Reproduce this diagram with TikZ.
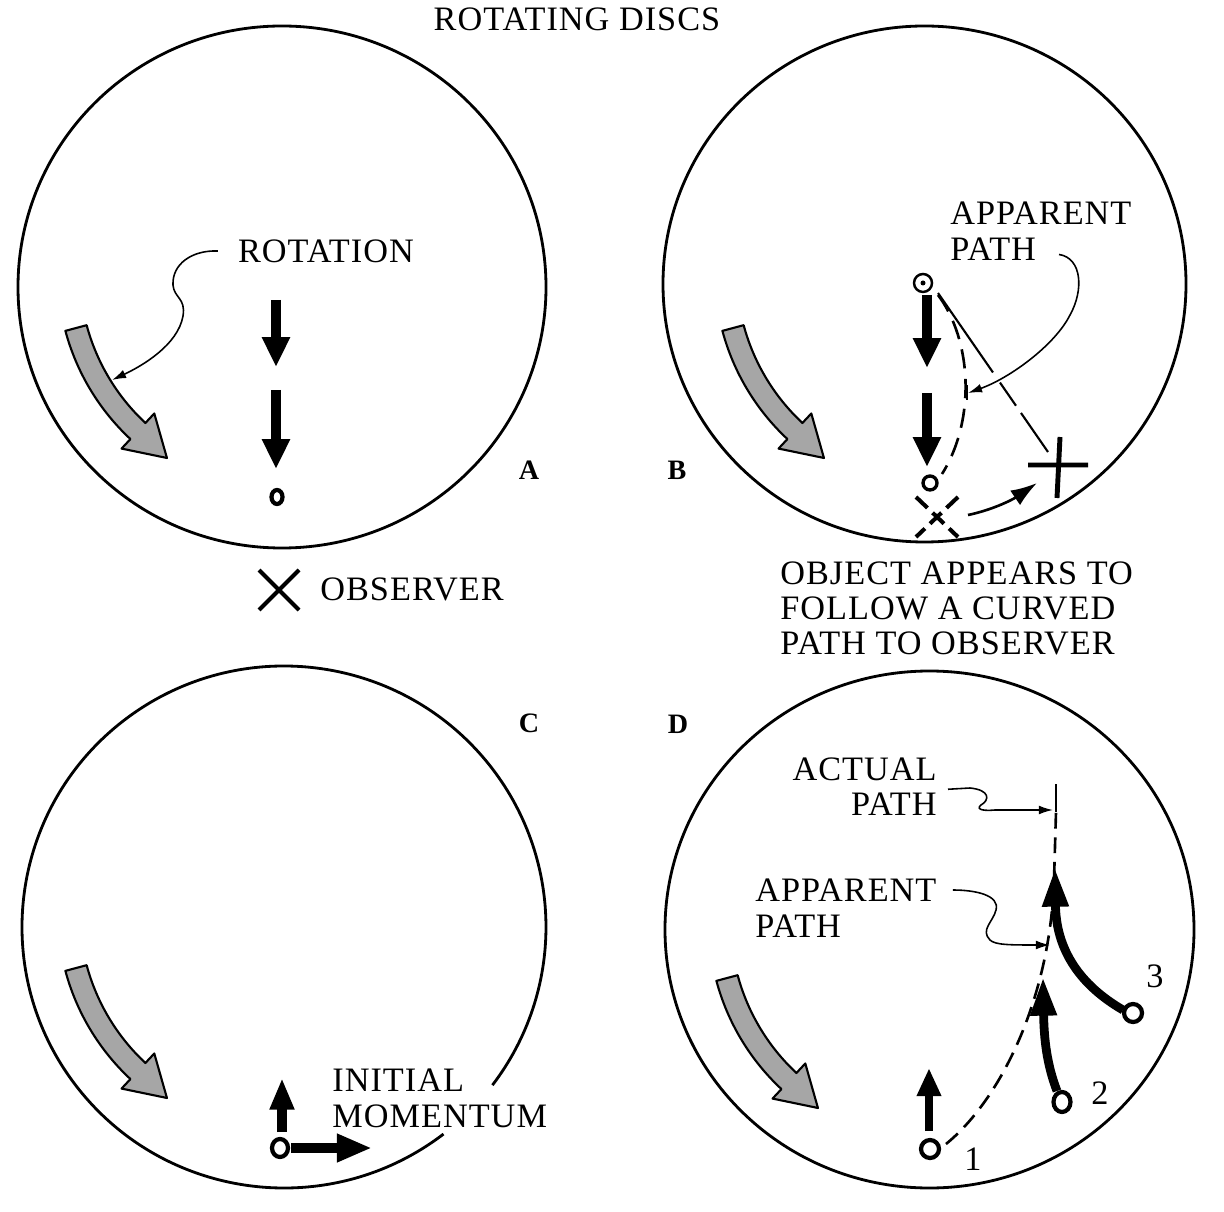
\documentclass[tikz,border=0pt]{standalone}
\usepackage{fontspec}
\setmainfont{Liberation Serif}[LetterSpace=3]
\usetikzlibrary{arrows.meta,calc,positioning}
\tikzset{
  >=Latex,
  disc/.style={line width=1.6pt},
  txt/.style={font=\fontsize{19.5}{20}\selectfont, inner sep=0pt, align=left},
  panel/.style={font=\fontsize{16}{16}\selectfont\bfseries, inner sep=0pt},
  leader/.style={line width=0.9pt, -{Latex[length=8pt,width=5pt]}},
  push/.style={line width=6pt, -{Triangle[length=17pt,width=15pt]}},
  obj/.style={line width=2.4pt},
  swirl/.style={draw=black, line width=1.2pt, line join=round, fill=black!35},
  apparent/.style={line width=1.5pt, dash pattern=on 11pt off 6pt},
  pics/rotarrow/.style={code={
    \path[swirl] (165:229) arc[start angle=165, end angle=133, radius=229]
      -- (133:242) -- (122.7:221.5) -- (133:194) -- (133:207)
      arc[start angle=133, end angle=165, radius=207] -- cycle;
  }}
}

\begin{document}
\begin{tikzpicture}[x=0.02cm, y=-0.02cm]
\useasboundingbox (0,0) rectangle (1224,1212);
\node[txt] (title) at (577,19) {ROTATING DISCS};

% disc A
\draw[disc] (282,287) ellipse [x radius=264, y radius=261];
\pic at (286.6,271.6) {rotarrow};
\node[txt] (rotation) at (326,251) {ROTATION};
\draw[leader] ($(rotation.west)+(-20,0)$) .. controls (192,250) and (172,264) .. (173,285)
  .. controls (174,298) and (186,298) .. (183,316) .. controls (178,345) and (142,366) .. (112,380);
\draw[push] (276,300) -- (276,367);
\draw[push] (276,390) -- (276,469);
\draw[obj] (277,497) ellipse [x radius=5.5, y radius=7];
\node[panel] (lblA) at (529,470) {A};
\draw[line width=2.3pt] (259,570) -- (299,610) (259,610) -- (299,570);
\node[txt, anchor=west] (observer) at (320,589) {OBSERVER};

% disc B
\draw[disc] (924.5,284) ellipse [x radius=261.5, y radius=258];
\pic at (943.6,271.6) {rotarrow};
\node[panel] (lblB) at (677,470) {B};
\draw[push] (927,295) -- (927,368);
\draw[push] (927,393) -- (927,467);
\coordinate (start) at (923,283);
\coordinate (stop) at (930,483);
\draw[line width=1.4pt] (start) circle (9);
\fill (start) circle (2.5);
\draw[obj, line width=1.9pt] (stop) circle (7);
\draw[line width=1.2pt, dash pattern=on 55pt off 7pt on 16pt off 5pt on 60pt] (938,293) -- (1048,452);
\draw[apparent] (938,295) .. controls (972,340) and (976,420) .. (942,474);
\draw[line width=2.3pt, dash pattern=on 9pt off 4pt] (916,497) -- (958,537) (958,497) -- (916,537);
\draw[line width=2.8pt] (1028,465) -- (1088,465) (1060,437) -- (1057,498);
\draw[line width=1.5pt, -{Latex[length=15pt,width=10pt]}] (968,515) .. controls (992,510) and (1012,500) .. (1037,483);
\node[txt, anchor=north west] (appB) at (950,202) {APPARENT\\PATH};
\draw[leader] ($(appB.south west)+(109,-6)$) .. controls (1082,258) and (1084,290) .. (1070,315)
  .. controls (1055,345) and (1010,378) .. (968,393);
\draw[line width=1.2pt] (967,385) -- (967,400);
\node[txt, anchor=north west] (object) at (780,561) {OBJECT APPEARS TO\\FOLLOW A CURVED\\PATH TO OBSERVER};

% disc C
\draw[disc] (284,927) ++(52.5:262 and 261) arc[start angle=52.5, end angle=397.3, x radius=262, y radius=261];
\pic at (286.6,911.6) {rotarrow};
\node[panel] (lblC) at (529,723) {C};
\draw[obj] (280,1148) ellipse [x radius=8, y radius=9];
\draw[push, -{Triangle[length=18pt,width=13pt]}] (282,1132) -- (282,1078);
\draw[push, -{Triangle[length=20pt,width=15pt]}] (291,1148) -- (372,1148);
\node[txt, anchor=north west] (momentum) at (332,1069) {INITIAL\\MOMENTUM};

% disc D
\draw[disc] (929.5,929.5) ellipse [x radius=264.5, y radius=258.5];
\pic at (937.6,921.6) {rotarrow};
\node[panel] (lblD) at (678,724) {D};
\draw[apparent, dash pattern=on 9pt off 5pt] (946,1144) .. controls (1000,1100) and (1050,1000) .. (1054,880) -- (1056,812);
\draw[line width=1.2pt] (1056,784) -- (1056,812);
\draw[obj] (930,1149) circle (9);
\draw[push, line width=4.5pt, -{Triangle[length=16pt,width=13pt]}] (929,1131) -- (929,1068);
\draw[obj] (1062,1102) ellipse [x radius=8.5, y radius=10];
\draw[push, line width=5pt, -{Triangle[length=22pt,width=14pt]}] (1057,1091) .. controls (1047,1065) and (1044,1040) .. (1043,977);
\draw[obj] (1133,1013) circle (9);
\draw[push, line width=5pt, -{Triangle[length=22pt,width=14pt]}] (1123,1010) .. controls (1080,985) and (1056,950) .. (1055,868);
\node[txt] (one) at (973,1159) {1};
\node[txt] (two) at (1100,1093) {2};
\node[txt] (three) at (1155,976) {3};
\node[txt, anchor=north east, align=right] (actual) at (937,757) {ACTUAL\\PATH};
\draw[leader] ($(actual.east)+(11,3)$) -- (970,788) .. controls (990,790) and (990,800) .. (981,805)
  .. controls (975,810) and (985,811) .. (995,810) -- (1053,810);
\node[txt, anchor=north west] (appD) at (755,879) {APPARENT\\PATH};
\draw[leader] ($(appD.north east)+(16,11)$) .. controls (975,890) and (1000,895) .. (996,910)
  .. controls (993,922) and (980,930) .. (990,940) .. controls (995,945) and (1010,945) .. (1050,945);
\end{tikzpicture}
\end{document}
